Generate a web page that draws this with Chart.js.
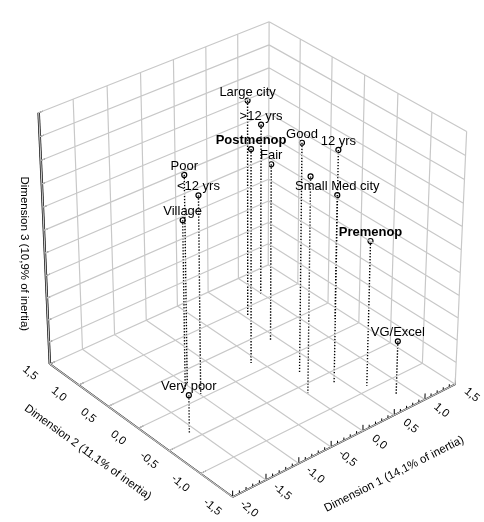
<!DOCTYPE html>
<html>
<head>
<meta charset="utf-8">
<script src="https://cdn.jsdelivr.net/npm/chart.js@4.4.1/dist/chart.umd.min.js"></script>
<style>
  html, body { margin: 0; padding: 0; background: #fff; }
  canvas { display: block; }
</style>
</head>
<body>
<canvas id="chartCanvas" width="484" height="522"></canvas>
<script>
// category coordinates (dimension 1, 2, 3)
const categories = ["Large city", ">12 yrs", "Postmenop", "Fair", "Good", "12 yrs", "Small Med city", "",
                    "Premenop", "VG/Excel", "Poor", "<12 yrs", "Village", "Very poor"];
const dim1 = [0.55, 0.98, -0.10, 0.39, 0.22, 0.39, 1.33, 0.01, 0.66, 0.81, -1.00, -0.99, -1.07, -1.59];
const dim2 = [0.88, 1.10, 0.16, 0.34, -0.30, -0.68, 0.22, -0.64, -0.93, -1.24, 0.27, 0.06, 0.23, -0.39];
const dim3 = [0.90, 0.43, 0.86, 0.48, 1.02, 1.05, -0.09, 0.87, 0.11, -0.90, 0.81, 0.68, 0.37, -1.08];

// axis ticks
const dim1Ticks = [-2.0, -1.5, -1.0, -0.5, 0.0, 0.5, 1.0, 1.5];
const dim2Ticks = [-1.5, -1.0, -0.5, 0.0, 0.5, 1.0, 1.5];
const dim3Ticks = [-1.5, -1.25, -1.0, -0.75, -0.5, -0.25, 0.0, 0.25, 0.5, 0.75, 1.0, 1.25];

const boldLabels = ["Postmenop", "Premenop"];

// view / camera
const W = 484, H = 522;
const theta = 40 * Math.PI / 180;   // rotation
const phi = 32.3 * Math.PI / 180;   // elevation
const focal = 2990, camDist = 2990;
const halfXY = 151, halfZ = 152;
const cx = 251.7, cy = 251.3;

const xMin = dim1Ticks[0], xMax = dim1Ticks[dim1Ticks.length - 1];
const yMin = dim2Ticks[0], yMax = dim2Ticks[dim2Ticks.length - 1];
const zMin = dim3Ticks[0], zMax = dim3Ticks[dim3Ticks.length - 1];

function project(x, y, z) {
    let X = (x - (xMin + xMax) / 2) / ((xMax - xMin) / 2) * halfXY;
    let Y = (y - (yMin + yMax) / 2) / ((yMax - yMin) / 2) * halfXY;
    let Z = (z - (zMin + zMax) / 2) / ((zMax - zMin) / 2) * halfZ;
    let h = Math.sin(theta) * X + Math.cos(theta) * Y;
    let pr = Math.cos(theta) * X - Math.sin(theta) * Y;
    let pu = Math.sin(phi) * h + Math.cos(phi) * Z;
    let pv = Math.cos(phi) * h - Math.sin(phi) * Z;
    let k = focal / (camDist + pv);
    return { x: cx + pr * k, y: cy - pu * k };
}

// list of [p1, p2] 3D segments -> data with gaps
function segs(list) {
    let out = [];
    list.forEach(s => {
        out.push(project(...s[0]), project(...s[1]), { x: NaN, y: NaN });
    });
    return out;
}

// grid on floor and back walls
let grid = [];
dim1Ticks.forEach(v => {
    grid.push([[v, yMin, zMin], [v, yMax, zMin]]);
    grid.push([[v, yMax, zMin], [v, yMax, zMax]]);
});
dim2Ticks.forEach(v => {
    grid.push([[xMin, v, zMin], [xMax, v, zMin]]);
    grid.push([[xMax, v, zMin], [xMax, v, zMax]]);
});
dim3Ticks.forEach(v => {
    grid.push([[xMin, yMax, v], [xMax, yMax, v]]);
    grid.push([[xMax, yMin, v], [xMax, yMax, v]]);
});

// axes
let axes = [
    [[xMin, yMin, zMin], [xMax, yMin, zMin]],
    [[xMin, yMin, zMin], [xMin, yMax, zMin]]
];
let zAxis = [[[xMin, yMax, zMin], [xMin, yMax, zMax]]];

let ticks = [];
for (let i = 0; i <= 35; i++) {
    let v = xMin + i * 0.1;
    let major = i % 5 === 0;
    ticks.push([[v, yMin, zMin], [v, yMin, zMin + (major ? 0.07 : 0.035)]]);
}
dim2Ticks.forEach(v => ticks.push([[xMin, v, zMin], [xMin + 0.08, v, zMin]]));
dim3Ticks.forEach(v => ticks.push([[xMin, yMax, v], [xMin + 0.06, yMax, v]]));

// drop lines
let drops = [];
for (let i = 0; i < categories.length; i++) {
    drops.push([[dim1[i], dim2[i], dim3[i]], [dim1[i], dim2[i], zMin]]);
}

let points = categories.map((c, i) => project(dim1[i], dim2[i], dim3[i]));

function fmt(v) {
    return v.toFixed(1).replace(".", ",");
}

const textPlugin = {
    id: "text3d",
    afterDatasetsDraw(chart) {
        let ctx = chart.ctx;
        let sx = chart.scales.x, sy = chart.scales.y;
        let px = p => ({ x: sx.getPixelForValue(p.x), y: sy.getPixelForValue(p.y) });
        ctx.save();
        ctx.fillStyle = "#000";

        // point labels
        ctx.textAlign = "center";
        ctx.textBaseline = "alphabetic";
        categories.forEach((c, i) => {
            let p = px(points[i]);
            ctx.font = (boldLabels.includes(c) ? "bold " : "") + "13px 'Liberation Sans', Arial, sans-serif";
            ctx.fillText(c, p.x, p.y - 5);
        });

        ctx.font = "11.5px 'Liberation Sans', Arial, sans-serif";
        ctx.textBaseline = "middle";
        // dimension 1 tick labels
        dim1Ticks.forEach(v => {
            let p = px(project(v, yMin - 0.25, zMin));
            ctx.save();
            ctx.translate(p.x, p.y);
            ctx.rotate(40 * Math.PI / 180);
            ctx.fillText(fmt(v), 0, 0);
            ctx.restore();
        });
        // dimension 2 tick labels
        dim2Ticks.forEach(v => {
            let p = px(project(xMin - 0.3, v, zMin));
            ctx.save();
            ctx.translate(p.x, p.y);
            ctx.rotate(40 * Math.PI / 180);
            ctx.fillText(fmt(v), 0, 0);
            ctx.restore();
        });

        // axis titles
        ctx.font = "11.5px 'Liberation Sans', Arial, sans-serif";
        let a = px(project(xMin, yMin, zMin)), b = px(project(xMax, yMin, zMin));
        let t1 = px(project((xMin + xMax) / 2, yMin - 0.75, zMin));
        ctx.save();
        ctx.translate(t1.x - 3, t1.y + 1);
        ctx.rotate(Math.atan2(b.y - a.y, b.x - a.x));
        ctx.fillText("Dimension 1 (14,1% of inertia)", 0, 0);
        ctx.restore();

        let c0 = px(project(xMin, yMax, zMin));
        let t2 = px(project(xMin - 0.75, (yMin + yMax) / 2, zMin));
        ctx.save();
        ctx.translate(t2.x, t2.y);
        ctx.rotate(Math.atan2(a.y - c0.y, a.x - c0.x));
        ctx.fillText("Dimension 2 (11,1% of inertia)", 0, 0);
        ctx.restore();

        let t3 = px(project(xMin, yMax, (zMin + zMax) / 2));
        ctx.save();
        ctx.translate(t3.x - 20, t3.y + 12);
        ctx.rotate(Math.PI / 2);
        ctx.fillText("Dimension 3 (10,9% of inertia)", 0, 0);
        ctx.restore();

        ctx.restore();
    }
};

function lineSet(data, color, width, dash) {
    return {
        data: data,
        showLine: true,
        borderColor: color,
        borderWidth: width,
        borderDash: dash || [],
        pointRadius: 0,
        fill: false,
        tension: 0,
        spanGaps: false
    };
}

let ctx = document.getElementById("chartCanvas");
let chart = new Chart(ctx, {
    type: "scatter",
    data: {
        datasets: [
            lineSet(segs(grid), "#c8c8c8", 1.2),
            lineSet(segs(axes), "#000", 1.6),
            lineSet(segs(ticks), "#000", 1),
            lineSet(segs(zAxis), "#000", 2.5),
            lineSet(segs(drops), "#000", 1.4, [1.4, 1.6]),
            {
                data: points,
                pointRadius: 2.5,
                pointBackgroundColor: "#fff",
                pointBorderColor: "#000",
                pointBorderWidth: 1.2,
                showLine: false
            }
        ]
    },
    options: {
        responsive: false,
        animation: false,
        events: [],
        layout: { padding: 0 },
        plugins: { legend: { display: false }, tooltip: { enabled: false } },
        scales: {
            x: { type: "linear", display: false, min: 0, max: W },
            y: { type: "linear", display: false, min: 0, max: H, reverse: true }
        }
    },
    plugins: [textPlugin]
});
</script>
</body>
</html>
